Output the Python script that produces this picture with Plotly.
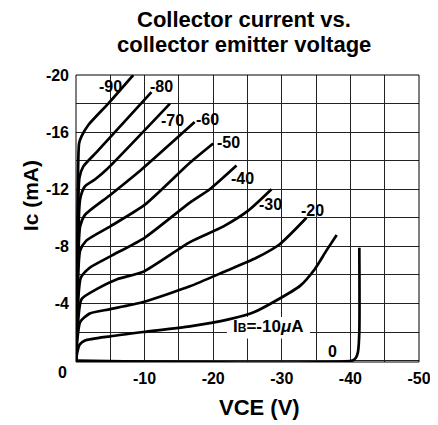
import plotly.graph_objects as go

# Collector current vs collector-emitter voltage, one curve per base current (uA)
ib0_v = [0, -40.3, -40.8, -41.1, -41.3, -41.3]
ib0_i = [0, 0, -0.2, -0.6, -2.0, -7.9]

ib10_v = [0, -0.2, -0.5, -1.3, -5, -9.8, -16.6, -22.4, -26, -28.8, -32.7, -34.8, -36.5, -38.0]
ib10_i = [0, -0.6, -1.1, -1.4, -1.7, -2.0, -2.4, -2.9, -3.4, -4.1, -5.25, -6.4, -7.7, -8.8]

ib20_v = [0, -0.2, -0.6, -2, -5, -9.8, -16.6, -21.5, -26.3, -29.7, -33.6]
ib20_i = [0, -1.5, -2.7, -3.3, -3.6, -4.1, -5.2, -6.2, -7.2, -8.15, -10.0]

ib30_v = [0, -0.2, -0.8, -3.0, -6, -9.7, -16.6, -21.5, -25.1, -28.5]
ib30_i = [0, -2, -4.3, -5.0, -5.7, -6.2, -8.3, -9.4, -10.5, -12.0]

ib40_v = [0, -0.2, -0.7, -2, -5, -10, -16.6, -19.5, -23.4]
ib40_i = [0, -3, -5.8, -6.5, -7.3, -8.6, -11.06, -12.0, -13.66]

ib50_v = [0, -0.2, -0.6, -1.5, -5, -10, -16.6, -20]
ib50_i = [0, -4, -7.7, -8.4, -9.4, -10.9, -13.85, -15.2]

ib60_v = [0, -0.2, -0.6, -1.3, -5, -9.6, -17.3]
ib60_i = [0, -5, -9.4, -10.2, -11.6, -13.4, -16.7]

ib70_v = [0, -0.2, -0.6, -1.3, -2.8, -4.5, -13.7]
ib70_i = [0, -6, -11.3, -12.2, -12.7, -13.4, -18.0]

ib80_v = [0, -0.2, -0.5, -1.07, -3, -11.0]
ib80_i = [0, -7, -12.8, -13.6, -14.6, -18.8]

ib90_v = [0, -0.2, -0.45, -0.8, -1.8, -4.7, -8.35]
ib90_i = [0, -8, -15.2, -15.7, -16.5, -18.0, -20.0]

curves = [
    (ib0_v, ib0_i), (ib10_v, ib10_i), (ib20_v, ib20_i), (ib30_v, ib30_i),
    (ib40_v, ib40_i), (ib50_v, ib50_i), (ib60_v, ib60_i), (ib70_v, ib70_i),
    (ib80_v, ib80_i), (ib90_v, ib90_i),
]

# curve labels and where they sit (V, mA)
label_text = ['-90', '-80', '-70', '-60', '-50', '-40', '-30', '-20', '0']
label_v = [-4.96, -12.5, -14.1, -19.2, -22.2, -24.2, -28.3, -34.5, -37.4]
label_i = [-19.2, -19.2, -16.8, -16.9, -15.3, -12.75, -10.9, -10.5, -0.66]

x_ticks = [-10, -20, -30, -40, -50]
y_ticks = [-4, -8, -12, -16, -20]

FONT = 'Arial, Liberation Sans, sans-serif'

fig = go.Figure()
for v, i in curves:
    fig.add_trace(go.Scatter(x=v, y=i, mode='lines',
                             line=dict(color='black', width=2.7, shape='spline', smoothing=0.6),
                             showlegend=False, hoverinfo='skip'))

for t, v, i in zip(label_text, label_v, label_i):
    fig.add_annotation(x=v, y=i, text='<b>' + t + '</b>', showarrow=False,
                       xanchor='center', yanchor='middle',
                       font=dict(family=FONT, size=16, color='black'))

# white patch behind the IB label hides the grid but not the curves
fig.add_shape(type='rect', x0=-22.0, x1=-34.1, y0=-1.55, y1=-3.05, layer='between',
              fillcolor='white', line=dict(width=0))
fig.add_annotation(x=-28.0, y=-2.4, showarrow=False,
                   xanchor='center', yanchor='middle',
                   text="<b>I<span style='font-size:12px'>B</span>=-10<i>μ</i>A</b>",
                   font=dict(family=FONT, size=17, color='black'))

# zero label of the current axis sits a little below the axis
fig.add_annotation(x=0, y=0, xref='paper', yref='y', xanchor='right', yanchor='middle',
                   yshift=-12, xshift=-7, text='<b>0</b>', showarrow=False,
                   font=dict(family=FONT, size=16, color='black'))

fig.add_annotation(x=-0.134, y=0.578, xref='paper', yref='paper', textangle=-90,
                   xanchor='center', yanchor='middle',
                   text='<b>Ic (mA)</b>', showarrow=False,
                   font=dict(family=FONT, size=21, color='black'))
fig.add_annotation(x=0.534, y=-0.160, xref='paper', yref='paper',
                   xanchor='center', yanchor='middle',
                   text='<b>VCE (V)</b>', showarrow=False,
                   font=dict(family=FONT, size=22, color='black'))

# two line title
fig.add_annotation(x=0.491, y=1.193, xref='paper', yref='paper',
                   xanchor='center', yanchor='middle', showarrow=False,
                   text='<b>Collector current vs.</b>',
                   font=dict(family=FONT, size=22, color='black'))
fig.add_annotation(x=0.491, y=1.106, xref='paper', yref='paper',
                   xanchor='center', yanchor='middle', showarrow=False,
                   text='<b>collector emitter voltage</b>',
                   font=dict(family=FONT, size=22, color='black'))

fig.add_shape(type='rect', xref='paper', yref='paper', x0=0, y0=0, x1=1, y1=1,
              line=dict(color='black', width=1))

# page body has an 8px margin, so the figure is shrunk by that much
fig.update_layout(
    width=430, height=417,
    margin=dict(l=68, r=19, t=67, b=63, autoexpand=False),
    plot_bgcolor='white', paper_bgcolor='white',
    font=dict(family=FONT, color='black'),
    xaxis=dict(range=[0, -50], tickvals=x_ticks, ticktext=['<b>%d</b>' % t for t in x_ticks],
               ticks='', ticklabelstandoff=5, automargin=False,
               tickfont=dict(size=16, family=FONT), showgrid=True,
               gridcolor='#222', gridwidth=1, zeroline=False,
               minor=dict(dtick=5, tick0=0, showgrid=True, gridcolor='#222', gridwidth=1)),
    yaxis=dict(range=[0.1, -20], tickvals=y_ticks, ticktext=['<b>%d</b>' % t for t in y_ticks],
               ticks='', ticklabelstandoff=6, automargin=False,
               tickfont=dict(size=16, family=FONT), showgrid=True,
               gridcolor='#222', gridwidth=1, zeroline=False,
               minor=dict(dtick=2, tick0=0, showgrid=True, gridcolor='#222', gridwidth=1)),
)

fig.write_html('out.html')
